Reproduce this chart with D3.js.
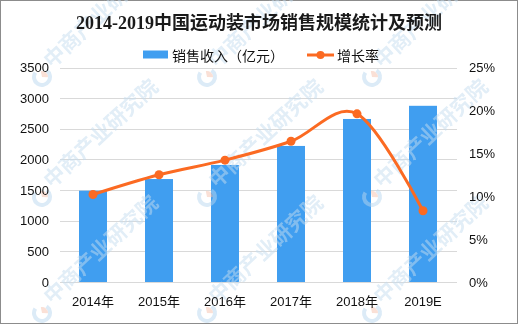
<!DOCTYPE html>
<html><head><meta charset="utf-8">
<script src="https://cdn.jsdelivr.net/npm/d3@7"></script>
<style>html,body{margin:0;padding:0;background:#fff;}svg{display:block;}</style>
</head><body>
<script>
const title = "2014-2019中国运动装市场销售规模统计及预测";
const categories = ["2014年","2015年","2016年","2017年","2018年","2019E"];
const revenue = [1490, 1680, 1910, 2220, 2660, 2875];
const growth = [0.102, 0.125, 0.142, 0.164, 0.196, 0.083];
const leftTicks = [0,500,1000,1500,2000,2500,3000,3500];
const rightTicks = [0,0.05,0.10,0.15,0.20,0.25];
const seriesNames = ["销售收入（亿元）","增长率"];
const watermark = "中商产业研究院";

const W = 518, H = 324;
const barColor = "#409ef0", lineColor = "#fb6a22";
const svg = d3.select("body").append("svg").attr("width", W).attr("height", H);
svg.append("rect").attr("x",0.5).attr("y",0.5).attr("width",W-1).attr("height",H-1)
  .attr("fill","#fff").attr("stroke","#8c8c8c");

const x = d3.scaleBand().domain(categories).range([60,456]).paddingInner(0.576).paddingOuter(0.288);
const yL = d3.scaleLinear().domain([0,3500]).range([282,67.5]);
const yR = d3.scaleLinear().domain([0,0.25]).range([282,67.5]);

// gridlines
svg.append("g").selectAll("line").data(leftTicks).join("line")
  .attr("x1",60).attr("x2",457).attr("y1",d=>Math.round(yL(d))+0.5).attr("y2",d=>Math.round(yL(d))+0.5)
  .attr("stroke","#d9d9d9").attr("stroke-width",1);

// bars
svg.append("g").selectAll("rect").data(revenue).join("rect")
  .attr("x",(d,i)=>x(categories[i])).attr("width",x.bandwidth())
  .attr("y",d=>yL(d)).attr("height",d=>yL(0)-yL(d)).attr("fill",barColor);

// watermarks
const wm = svg.append("g").attr("opacity",0.5);
const wmX = [42,207,372], wmY = [77,197,313];
wmY.forEach(yy=>wmX.forEach(xx=>{
  const g = wm.append("g").attr("transform",`translate(${xx},${yy})`);
  g.append("path").attr("d",d3.arc()({innerRadius:6,outerRadius:10,startAngle:0.6,endAngle:5.3}))
    .attr("fill","#b9d7ef");
  g.append("path").attr("d",d3.arc()({innerRadius:0,outerRadius:6,startAngle:-0.2,endAngle:1.6}))
    .attr("fill","#f4c0ad");
  g.append("text").attr("transform","translate(10,-8) rotate(-43)")
    .attr("font-family","Noto Sans CJK SC").attr("font-size",21).attr("font-weight","bold")
    .attr("fill","#c4dcef").text(watermark);
}));

// line
const pts = growth.map((g,i)=>[x(categories[i])+x.bandwidth()/2, yR(g)]);
svg.append("path").datum(pts).attr("d",d3.line().curve(d3.curveCardinal.tension(0)))
  .attr("fill","none").attr("stroke",lineColor).attr("stroke-width",3);
svg.append("g").selectAll("circle").data(pts).join("circle")
  .attr("cx",d=>d[0]).attr("cy",d=>d[1]).attr("r",4.5).attr("fill",lineColor);

// axes labels
const f = "'Liberation Sans','Noto Sans CJK SC',sans-serif";
svg.append("g").selectAll("text").data(leftTicks).join("text")
  .attr("x",49).attr("y",d=>yL(d)).attr("dy","0.35em").attr("text-anchor","end")
  .attr("font-family",f).attr("font-size",13).attr("fill","#111").text(d=>d);
svg.append("g").selectAll("text").data(rightTicks).join("text")
  .attr("x",469).attr("y",d=>yR(d)).attr("dy","0.35em").attr("text-anchor","start")
  .attr("font-family",f).attr("font-size",13).attr("fill","#111").text(d=>d3.format(".0%")(d));
svg.append("g").selectAll("text").data(categories).join("text")
  .attr("x",d=>x(d)+x.bandwidth()/2).attr("y",306).attr("text-anchor","middle")
  .attr("font-family",f).attr("font-size",13).attr("fill","#111").text(d=>d);

// title
svg.append("text").attr("x",259).attr("y",29).attr("text-anchor","middle")
  .attr("font-family","'Liberation Serif','Noto Sans CJK SC',serif").attr("font-weight","bold")
  .attr("font-size",18).attr("fill","#1a1a1a").text(title);

// legend
svg.append("rect").attr("x",143).attr("y",50.5).attr("width",25).attr("height",8).attr("fill",barColor);
svg.append("text").attr("x",172).attr("y",60.5).attr("font-family",f).attr("font-size",14)
  .attr("fill","#111").text(seriesNames[0]);
svg.append("line").attr("x1",307).attr("x2",334).attr("y1",55).attr("y2",55)
  .attr("stroke",lineColor).attr("stroke-width",3);
svg.append("circle").attr("cx",320.5).attr("cy",55).attr("r",4).attr("fill",lineColor);
svg.append("text").attr("x",337).attr("y",60.5).attr("font-family",f).attr("font-size",14)
  .attr("fill","#111").text(seriesNames[1]);
</script>
</body></html>
